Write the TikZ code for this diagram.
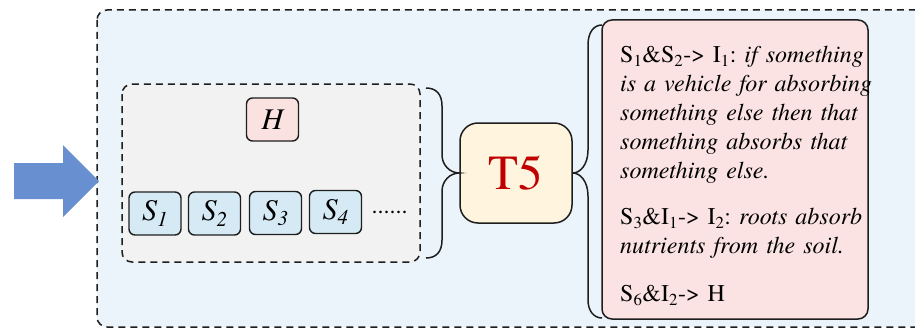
\documentclass[tikz,border=0pt]{standalone}
\usepackage{fontspec}
\setmainfont{TeX Gyre Termes}
\frenchspacing

\definecolor{panelblue}{RGB}{235,243,251}
\definecolor{panelgray}{RGB}{242,242,242}
\definecolor{sblue}{RGB}{214,234,246}
\definecolor{hpink}{RGB}{250,226,224}
\definecolor{tcream}{RGB}{255,245,222}
\definecolor{rulepink}{RGB}{250,227,226}
\definecolor{arrowblue}{RGB}{104,143,208}
\definecolor{tred}{RGB}{192,0,0}
\definecolor{edge}{RGB}{30,30,30}

\begin{document}
\begin{tikzpicture}[x=1pt,y=-1pt,
  dashframe/.style={draw=edge, line width=1.5pt, dash pattern=on 7pt off 5pt, rounded corners=10pt},
  sentbox/.style={draw=edge, line width=1.4pt, fill=sblue, rounded corners=6pt,
    minimum width=52pt, minimum height=43pt, inner sep=0pt,
    font=\fontsize{30}{32}\selectfont\itshape},
  hypbox/.style={sentbox, fill=hpink},
  taskbox/.style={draw=edge, line width=1.5pt, fill=tcream, rounded corners=18pt,
    minimum width=112pt, minimum height=100pt, inner sep=0pt,
    text=tred, font=\fontsize{49}{52}\selectfont},
  rulebox/.style={draw=edge, line width=1.5pt, fill=rulepink, rounded corners=10pt,
    minimum width=266pt, minimum height=299pt, inner sep=0pt},
  ruletext/.style={inner sep=0pt, text width=280pt, align=left,
    font=\fontsize{24}{29}\selectfont},
  bracestyle/.style={draw=edge, line width=1.5pt}
]
\useasboundingbox (0,0) rectangle (915,329);

% outer panel, running past the right and bottom edges
\begin{scope}
  \clip (0,0) rectangle (915,329);
  \path[dashframe, fill=panelblue] (97,10) rectangle (945,327);
\end{scope}

% input arrow
\fill[arrowblue] (14,163) -- (63,163) -- (63,145) -- (99,181) -- (63,217) -- (63,199) -- (14,199) -- cycle;

% sample container
\path[dashframe, fill=panelgray] (122,84) rectangle (420,262);

\node[hypbox] (H) at (272.5,119.5) {H};
\node[sentbox] (S1) at (155,213.5) {S\textsubscript{1}};
\node[sentbox] (S2) at (214.5,213.5) {S\textsubscript{2}};
\node[sentbox] (S3) at (275.5,213) {S\textsubscript{3}};
\node[sentbox] (S4) at (335.5,212) {S\textsubscript{4}};
\node[inner sep=0pt, font=\fontsize{24}{28}\selectfont, anchor=base] (dots) at (389.5,213) {......};

% task node
\node[taskbox] (T5) at (516,173) {T5};

% rule list
\node[rulebox] (R) at (735,169.5) {};
\node[ruletext, anchor=west] (Rtext) at (620,176) {\hyphenpenalty=10000 \exhyphenpenalty=10000
S\textsubscript{1}\&S\textsubscript{2}-> I\textsubscript{1}: \textit{if something}\\
\textit{is a vehicle for absorbing}\\
\textit{something else then that}\\
\textit{something absorbs that}\\
\textit{something else.}\\[17pt]
S\textsubscript{3}\&I\textsubscript{1}-> I\textsubscript{2}: \textit{roots absorb}\\
\textit{nutrients from the soil.}\\[19pt]
S\textsubscript{6}\&I\textsubscript{2}-> H};

% left brace: container -> task
\coordinate (lbTop) at (426,88);
\coordinate (lbBot) at (426,258);
\draw[bracestyle] (lbTop) .. controls (436,88) and (442,94) .. (442,106) -- (442,155)
  .. controls (442,165) and (450,173) .. (T5.west)
  .. controls (450,173) and (442,181) .. (442,191) -- (442,240)
  .. controls (442,252) and (436,258) .. (lbBot);

% right brace: task -> rules
\coordinate (rbTop) at (602,25);
\coordinate (rbBot) at (602,318);
\draw[bracestyle] (T5.east) .. controls (580,173) and (588,165) .. (588,150) -- (588,45)
  .. controls (588,32) and (594,25) .. (rbTop);
\draw[bracestyle] (T5.east) .. controls (580,173) and (588,181) .. (588,196) -- (588,300)
  .. controls (588,311) and (594,318) .. (rbBot);
\end{tikzpicture}
\end{document}
